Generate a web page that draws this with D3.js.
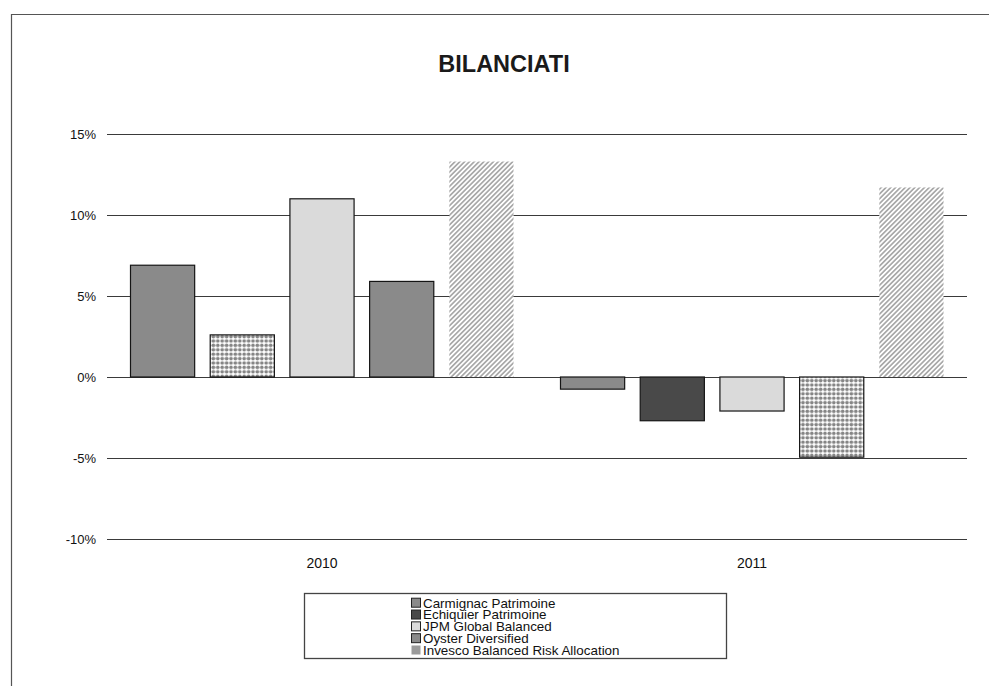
<!DOCTYPE html>
<html>
<head>
<meta charset="utf-8">
<script src="https://cdn.jsdelivr.net/npm/d3@7"></script>
<style>
  html, body { margin: 0; padding: 0; background: #fff; }
  svg { display: block; font-family: "Liberation Sans", Arial, Helvetica, sans-serif; }
</style>
</head>
<body>
<svg id="chart" width="989" height="686"></svg>
<script>
// ---- data ----
const title = "BILANCIATI";
const categories = ["2010", "2011"];
const seriesNames = [
  "Carmignac Patrimoine",
  "Echiquier Patrimoine",
  "JPM Global Balanced",
  "Oyster Diversified",
  "Invesco Balanced Risk Allocation"
];
const values2010 = [6.9, 2.6, 11.0, 5.9, 13.3];
const values2011 = [-0.75, -2.7, -2.1, -4.95, 11.7];
const yTicks = [-10, -5, 0, 5, 10, 15];

// ---- styles (separate from data) ----
const fillsByCategory = {
  "2010": ["#8a8a8a", "url(#dots)", "#dadada", "#8a8a8a", "url(#hatch)"],
  "2011": ["#8a8a8a", "#494949", "#dadada", "url(#dots)", "url(#hatch)"]
};
const legendFills = ["#8a8a8a", "#494949", "#dadada", "#8a8a8a", "#9a9a9a"];

const svg = d3.select("#chart");
const defs = svg.append("defs");

const dots = defs.append("pattern").attr("id", "dots")
  .attr("patternUnits", "userSpaceOnUse").attr("width", 4.4).attr("height", 4.4);
dots.append("rect").attr("width", 4.4).attr("height", 4.4).attr("fill", "#ffffff");
dots.append("circle").attr("cx", 2.2).attr("cy", 2.2).attr("r", 1.85).attr("fill", "#858585");

const hatch = defs.append("pattern").attr("id", "hatch")
  .attr("patternUnits", "userSpaceOnUse").attr("width", 3.4).attr("height", 10)
  .attr("patternTransform", "rotate(45)");
hatch.append("rect").attr("width", 3.4).attr("height", 10).attr("fill", "#ffffff");
hatch.append("rect").attr("width", 1.7).attr("height", 10).attr("fill", "#a9a9a9");

// outer frame
svg.append("path").attr("d", "M11.5,686 V14.5 H989")
  .attr("fill", "none").attr("stroke", "#555").attr("stroke-width", 1.2);

// scales
const plotLeft = 107, plotRight = 967;
const y = d3.scaleLinear().domain([-10, 15]).range([539, 134]);
const x0 = d3.scaleBand().domain(categories).range([plotLeft, plotRight]).paddingInner(0).paddingOuter(0);
const x1 = d3.scaleBand().domain(seriesNames)
  .range([23.5, x0.bandwidth() - 23.5]).paddingInner(0.195).paddingOuter(0);

// gridlines
svg.append("g").selectAll("line").data(yTicks).join("line")
  .attr("x1", plotLeft).attr("x2", plotRight)
  .attr("y1", d => Math.round(y(d)) + 0.5).attr("y2", d => Math.round(y(d)) + 0.5)
  .attr("stroke", "#3a3a3a").attr("stroke-width", 1);

// y tick labels
svg.append("g").selectAll("text").data(yTicks).join("text")
  .attr("x", 96).attr("y", d => y(d)).attr("dy", "0.35em")
  .attr("text-anchor", "end").attr("font-size", 13).attr("fill", "#111")
  .text(d => d + "%");

// category labels
svg.append("g").selectAll("text").data(categories).join("text")
  .attr("x", d => x0(d) + x0.bandwidth() / 2).attr("y", 563).attr("dy", "0.35em")
  .attr("text-anchor", "middle").attr("font-size", 14).attr("fill", "#111")
  .text(d => d);

// bars
const valuesByCategory = { "2010": values2010, "2011": values2011 };
const barData = [];
categories.forEach(c => {
  valuesByCategory[c].forEach((v, i) => {
    barData.push({ cat: c, series: seriesNames[i], idx: i, value: v, fill: fillsByCategory[c][i] });
  });
});

svg.append("g").selectAll("rect").data(barData).join("rect")
  .attr("x", d => x0(d.cat) + x1(d.series))
  .attr("width", x1.bandwidth())
  .attr("y", d => Math.min(y(d.value), y(0)))
  .attr("height", d => Math.abs(y(d.value) - y(0)))
  .attr("fill", d => d.fill)
  .attr("stroke", d => d.idx === 4 ? "none" : "#151515")
  .attr("stroke-width", 1.2);

// title
svg.append("text").attr("x", 504).attr("y", 64).attr("dy", "0.35em")
  .attr("text-anchor", "middle").attr("font-size", 23.5).attr("font-weight", "bold")
  .attr("fill", "#1a1a1a").text(title);

// legend
const legend = svg.append("g");
legend.append("rect").attr("x", 304.5).attr("y", 593.5).attr("width", 422).attr("height", 65)
  .attr("fill", "#fff").attr("stroke", "#444").attr("stroke-width", 1.3);
const rowY = d3.scalePoint().domain(seriesNames).range([602.7, 650]);
const items = legend.selectAll("g.item").data(seriesNames).join("g").attr("class", "item");
items.append("rect")
  .attr("x", 411.5).attr("y", d => rowY(d) - 4.5).attr("width", 9).attr("height", 9)
  .attr("fill", (d, i) => legendFills[i])
  .attr("stroke", (d, i) => i === 4 ? "none" : "#222").attr("stroke-width", 1);
items.append("text")
  .attr("x", 423).attr("y", d => rowY(d)).attr("dy", "0.36em")
  .attr("font-size", 13.4).attr("fill", "#111")
  .text(d => d);
</script>
</body>
</html>
